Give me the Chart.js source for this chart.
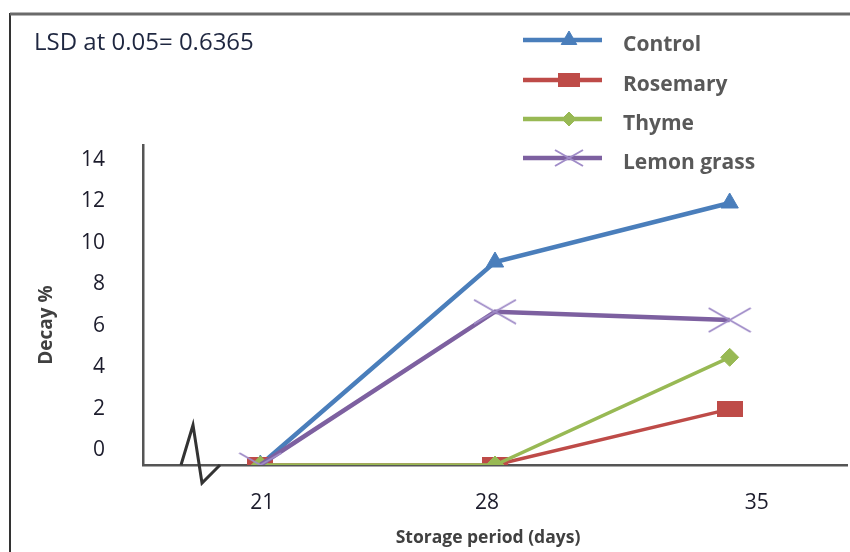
<!DOCTYPE html>
<html>
<head>
<meta charset="utf-8">
<script src="https://cdn.jsdelivr.net/npm/chart.js@4/dist/chart.umd.min.js"></script>
<style>
  html, body { margin: 0; padding: 0; background: #fff; overflow: hidden; }
  #wrap { width: 850px; height: 552px; }
  canvas { display: block; }
</style>
</head>
<body>
<div id="wrap"><canvas id="chart" width="850" height="552"></canvas></div>
<script>
// Data
const days = ['21', '28', '35'];
const control = [0, 9.8, 12.65];
const rosemary = [0, 0, 2.7];
const thyme = [0, 0, 5.2];
const lemonGrass = [0, 7.4, 7.0];
const seriesNames = ['Control', 'Rosemary', 'Thyme', 'Lemon grass'];
const yTickStep = 2;
const yTickMax = 14;
const lsdNote = 'LSD at 0.05= 0.6365';
const yTitle = 'Decay %';
const xTitle = 'Storage period (days)';

const BLUE = '#4a7ebb';
const RED = '#be4b48';
const GREEN = '#98b954';
const PURPLE = '#7d60a0';
const LAVENDER = '#a08cc8';

// stretched markers (the picture is squashed sideways)
function rectMarker(w, h, color) {
  const c = document.createElement('canvas');
  c.width = w; c.height = h;
  const g = c.getContext('2d');
  g.fillStyle = color;
  g.fillRect(0, 0, w, h);
  return c;
}
function crossMarker(w, h, color, lw) {
  const c = document.createElement('canvas');
  c.width = w; c.height = h;
  const g = c.getContext('2d');
  g.strokeStyle = color;
  g.lineWidth = lw;
  g.beginPath();
  g.moveTo(1, 1); g.lineTo(w - 1, h - 1);
  g.moveTo(w - 1, 1); g.lineTo(1, h - 1);
  g.stroke();
  return c;
}

const squareBig = rectMarker(26, 16, RED);
const squareSmall = rectMarker(22, 14, RED);
const crossBig = crossMarker(44, 26, LAVENDER, 2);
const crossSmall = crossMarker(30, 18, LAVENDER, 2);

const datasets = [
  { label: seriesNames[0], data: control, borderColor: BLUE, backgroundColor: BLUE,
    borderWidth: 4.5, pointStyle: 'triangle', pointRadius: 10, order: 4,
    legendStyle: 'triangle', legendRadius: 9 },
  { label: seriesNames[1], data: rosemary, borderColor: RED, backgroundColor: RED,
    borderWidth: 3.5, pointStyle: squareBig, pointRadius: 10, order: 3,
    legendStyle: squareSmall, legendRadius: 8 },
  { label: seriesNames[2], data: thyme, borderColor: GREEN, backgroundColor: GREEN,
    borderWidth: 3.5, pointStyle: 'rectRot', pointRadius: 9, order: 2,
    legendStyle: 'rectRot', legendRadius: 7 },
  { label: seriesNames[3], data: lemonGrass, borderColor: PURPLE, backgroundColor: PURPLE,
    borderWidth: 4.5, pointStyle: crossBig, pointRadius: 10, order: 1,
    legendStyle: crossSmall, legendRadius: 8 }
];
datasets.forEach(d => {
  d.pointBorderColor = d.borderColor;
  d.pointBackgroundColor = d.backgroundColor;
  d.pointBorderWidth = 1;
  d.tension = 0;
});

// x labels sit a bit off their ticks in the picture
const xLabelShift = [2, -8, 27];

// frame, note, titles, x labels, axis break and legend
const decorations = {
  id: 'decorations',
  afterDraw(chart) {
    const ctx = chart.ctx;
    const area = chart.chartArea;
    const xs = chart.scales.x;
    ctx.save();

    // outer frame (left + top)
    ctx.strokeStyle = '#333';
    ctx.lineWidth = 2;
    ctx.beginPath();
    ctx.moveTo(10, 552); ctx.lineTo(10, 13);
    ctx.stroke();
    ctx.strokeStyle = '#6a6a6a';
    ctx.lineWidth = 3;
    ctx.beginPath();
    ctx.moveTo(10, 14); ctx.lineTo(850, 14);
    ctx.stroke();

    // LSD note
    ctx.fillStyle = '#1f2740';
    ctx.font = '24px "Open Sans"';
    ctx.textAlign = 'left';
    ctx.textBaseline = 'middle';
    ctx.fillText(lsdNote, 34, 43);

    // x tick labels
    ctx.fillStyle = '#1c1c2c';
    ctx.font = '21px "Open Sans"';
    ctx.textAlign = 'center';
    days.forEach((d, i) => {
      ctx.fillText(d, xs.getPixelForTick(i) + xLabelShift[i], area.bottom + 38);
    });

    // x axis title
    ctx.fillStyle = '#404040';
    ctx.font = 'bold 17.5px "Open Sans"';
    ctx.fillText(xTitle, 488, 538);

    // y axis title, sits a little below the middle in the picture
    ctx.save();
    ctx.translate(47, 325);
    ctx.rotate(-Math.PI / 2);
    ctx.fillStyle = '#404040';
    ctx.font = 'bold 19px "Open Sans"';
    ctx.textAlign = 'center';
    ctx.fillText(yTitle, 0, 0);
    ctx.restore();

    // axis break zigzag
    const x0 = area.left, y0 = area.bottom;
    ctx.strokeStyle = '#333';
    ctx.lineWidth = 3;
    ctx.beginPath();
    ctx.moveTo(x0 + 38, y0);
    ctx.lineTo(x0 + 50, y0 - 40);
    ctx.lineTo(x0 + 59, y0 + 18);
    ctx.lineTo(x0 + 77, y0);
    ctx.stroke();

    // legend
    const rows = [40, 80, 119, 158];
    chart.data.datasets.forEach((ds, i) => {
      const y = rows[i];
      ctx.strokeStyle = ds.borderColor;
      ctx.lineWidth = 4.5;
      ctx.beginPath();
      ctx.moveTo(523, y); ctx.lineTo(602, y);
      ctx.stroke();
      ctx.fillStyle = ds.backgroundColor;
      ctx.strokeStyle = ds.borderColor;
      ctx.lineWidth = 1;
      Chart.helpers.drawPoint(ctx, { pointStyle: ds.legendStyle, radius: ds.legendRadius, rotation: 0, borderWidth: 1 }, 569, y);
      ctx.fillStyle = '#595959';
      ctx.font = 'bold 21px "Open Sans"';
      ctx.textAlign = 'left';
      ctx.textBaseline = 'middle';
      ctx.fillText(ds.label, 623, y + 5);
    });
    ctx.restore();
  }
};

new Chart(document.getElementById('chart'), {
  type: 'line',
  data: { labels: days, datasets: datasets },
  options: {
    responsive: false,
    animation: false,
    devicePixelRatio: 1,
    layout: { autoPadding: false, padding: { left: 10, top: 145, right: 3, bottom: 0 } },
    plugins: { legend: { display: false }, tooltip: { enabled: false } },
    scales: {
      x: {
        type: 'category',
        offset: true,
        grid: { display: false, drawTicks: false },
        border: { display: true, color: '#555', width: 2.5 },
        ticks: { display: false },
        title: { display: false },
        afterFit(scale) { scale.height = 87; }
      },
      y: {
        type: 'linear',
        min: 0,
        max: 15.45,
        grid: { display: false, drawTicks: false },
        border: { display: true, color: '#555', width: 2.5 },
        ticks: {
          stepSize: yTickStep,
          includeBounds: false,
          color: '#1c1c2c',
          font: { family: 'Open Sans', size: 21 },
          padding: 38,
          labelOffset: -15,
          callback: v => (v <= yTickMax ? v : '')
        },
        title: { display: false },
        afterFit(scale) { scale.width = 133; }
      }
    }
  },
  plugins: [decorations]
});
</script>
</body>
</html>
